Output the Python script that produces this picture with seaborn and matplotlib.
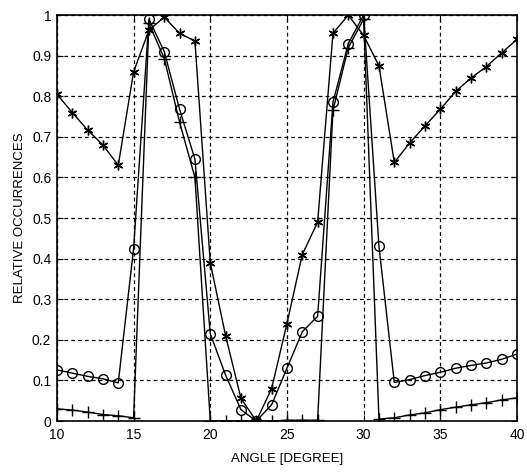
import numpy as np
import pandas as pd
import matplotlib
matplotlib.use("Agg")
import matplotlib.pyplot as plt
import seaborn as sns

angle = list(range(10, 41))

circles = [0.126, 0.118, 0.110, 0.104, 0.094, 0.425, 0.990, 0.910, 0.768, 0.645,
           0.215, 0.113, 0.028, 0.000, 0.040, 0.130, 0.220, 0.258, 0.785, 0.930,
           1.000, 0.430, 0.095, 0.102, 0.112, 0.120, 0.130, 0.137, 0.143, 0.152,
           0.165]

asterisks = [0.805, 0.760, 0.717, 0.680, 0.630, 0.860, 0.963, 0.995, 0.955, 0.936,
             0.390, 0.210, 0.056, 0.000, 0.080, 0.240, 0.410, 0.490, 0.955, 1.000,
             0.950, 0.875, 0.637, 0.685, 0.727, 0.768, 0.812, 0.845, 0.873, 0.907,
             0.940]

pluses = [0.030, 0.027, 0.022, 0.016, 0.013, 0.008, 0.980, 0.893, 0.736, 0.600,
          0.000, 0.000, 0.000, 0.000, 0.000, 0.002, 0.002, 0.002, 0.765, 0.920,
          0.990, 0.005, 0.008, 0.015, 0.020, 0.028, 0.034, 0.040, 0.045, 0.052,
          0.057]

x_ticks = [10, 15, 20, 25, 30, 35, 40]
y_ticks = [0, 0.1, 0.2, 0.3, 0.4, 0.5, 0.6, 0.7, 0.8, 0.9, 1]
y_tick_labels = ["0", "0.1", "0.2", "0.3", "0.4", "0.5", "0.6", "0.7", "0.8", "0.9", "1"]

df = pd.DataFrame({
    "angle": angle * 3,
    "value": circles + asterisks + pluses,
    "series": ["circle"] * len(angle) + ["asterisk"] * len(angle) + ["plus"] * len(angle),
})

sns.set_style("white")
plt.rcParams["font.family"] = ["Liberation Sans", "DejaVu Sans"]
plt.rcParams["text.color"] = "black"
plt.rcParams["axes.labelcolor"] = "black"

fig = plt.figure(figsize=(5.27, 4.72), dpi=100)
ax = fig.add_axes([0.108, 0.108, 0.873, 0.860])

markers = {"circle": "o", "asterisk": (6, 2, 0), "plus": "+"}
sizes = {"circle": 7, "asterisk": 7, "plus": 9}
for name in ["plus", "asterisk", "circle"]:
    sub = df[df["series"] == name]
    sns.lineplot(data=sub, x="angle", y="value", ax=ax, color="black",
                 linewidth=1.0, marker=markers[name], markersize=sizes[name],
                 markerfacecolor="none", markeredgecolor="black",
                 markeredgewidth=1.0, estimator=None, sort=False, legend=False)

ax.set_xlim(10, 40)
ax.set_ylim(0, 1)
ax.set_xticks(x_ticks)
ax.set_xticklabels([str(t) for t in x_ticks])
ax.set_yticks(y_ticks)
ax.set_yticklabels(y_tick_labels)
ax.grid(True, color="black", linestyle=(0, (3, 2.5)), linewidth=0.9)
ax.set_axisbelow(True)
for sp in ax.spines.values():
    sp.set_visible(True)
    sp.set_color("black")
    sp.set_linewidth(1.2)
ax.tick_params(direction="in", length=4, width=0.8, labelsize=10,
               colors="black", bottom=True, left=True, top=True, right=True)
ax.tick_params(axis="x", pad=5)
ax.tick_params(axis="y", pad=4)
ax.set_xlabel("ANGLE [DEGREE]", fontsize=9.5, labelpad=8, color="black")
ax.set_ylabel("RELATIVE OCCURRENCES", fontsize=9.5, labelpad=4, color="black")

fig.savefig("out.png", dpi=100)
